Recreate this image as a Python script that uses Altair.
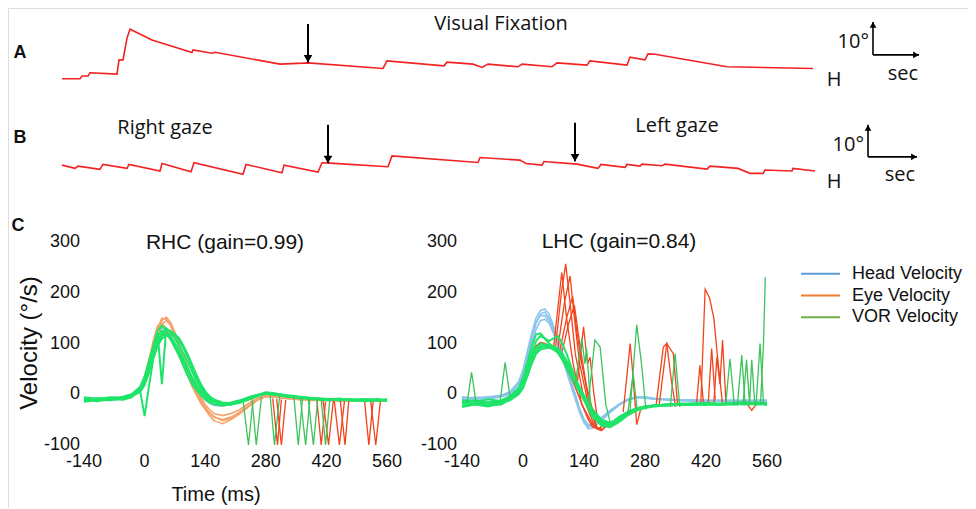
import altair as alt
import pandas as pd

# ---------------- Panel A : visual fixation (time s, horizontal position deg)
A_t = [0, 1.8, 2.0, 2.6, 2.8, 5.5, 5.7, 6.1, 6.5, 6.8, 9.0, 13.0, 13.1, 15.0, 15.3, 21.8, 24.1, 24.6,
       32.1, 32.5, 38.2, 38.5, 41.1, 42.0, 42.6, 45.6, 46.0, 49.0, 49.5, 52.5, 52.8, 56.5, 56.8, 58.3,
       58.6, 59.3, 66.5, 75.1]
A_deg = [0.4, 0.4, 1.2, 1.2, 2.2, 1.8, 6.1, 6.1, 12.7, 15.4, 12.1, 8.3, 9.1, 8.1, 8.4, 4.8, 5.1, 5.2,
         3.5, 5.8, 4.3, 5.4, 4.8, 3.8, 4.8, 4.0, 4.8, 4.0, 5.2, 4.5, 5.8, 4.5, 6.9, 6.1,
         7.9, 7.8, 4.0, 3.5]
A_arrow_t = [24.6]
A_arrow_from = [17.0]
A_arrow_to = [5.4]

# ---------------- Panel B : right / left gaze
B_t = [0, 1.3, 1.6, 3.8, 4.1, 6.5, 6.7, 9.8, 10.0, 12.9, 13.2, 18.1, 18.4, 22.0, 22.2, 25.6, 26.0, 26.8,
       32.6, 33.0, 41.6, 41.8, 45.8, 46.4, 48.0, 48.2, 51.5, 53.6, 53.9, 56.3, 56.5, 57.8, 58.0, 60.0,
       60.3, 64.5, 64.8, 67.6, 68.8, 70.1, 70.3, 73.0, 73.1, 75.3]
B_deg = [3.0, 2.0, 2.7, 1.7, 3.2, 2.0, 3.2, 1.2, 3.5, 1.0, 3.7, 0.2, 3.2, 0.7, 3.0, 0.9, 3.7, 3.6,
         2.5, 5.8, 3.8, 5.3, 4.5, 3.5, 3.0, 4.1, 3.3, 2.0, 3.2, 2.3, 3.2, 2.7, 3.3, 2.8,
         3.3, 1.8, 2.7, 2.0, 0.5, 0.5, 1.5, 1.2, 2.0, 1.2]
B_arrow_t = [26.6, 51.3]
B_arrow_from = [15.2, 15.8]
B_arrow_to = [3.6, 4.2]

# scale bars (10 deg vertical, time horizontal)
SB_A = dict(t=81.1, t2=85.7, d0=7.6, d1=17.6)
SB_B = dict(t=80.6, t2=85.5, d0=5.5, d1=15.2)

# ---------------- Panel C : head impulse velocity traces
T = [-140, -110, -80, -50, -30, -10, 0, 10, 20, 30, 40, 50, 60, 70, 80, 90, 100, 110, 120, 130, 140,
     150, 160, 180, 200, 220, 240, 260, 280, 300, 330, 360, 390, 420, 450, 480, 510, 540, 560]

RHC_head = {
    "h1": [-8, -9, -8, -6, -1, 12, 30, 60, 92, 118, 130, 128, 118, 102, 84, 64, 44, 26, 10, -2, -12,
           -18, -22, -24, -20, -14, -8, -3, 0, -2, -5, -7, -9, -10, -10, -11, -11, -12, -11],
}
RHC_eye = {
    "e1": [-10, -12, -8, -8, -2, 12, 30, 60, 95, 130, 150, 148, 135, 115, 92, 68, 45, 22, 3, -15, -28,
           -38, -45, -50, -45, -35, -22, -10, -3, -5, -8, -10, -11, -12, -11, -13, -12, -12, -13],
    "e2": [-13, -9, -11, -7, -3, 10, 28, 55, 90, 125, 145, 152, 142, 122, 98, 74, 50, 27, 8, -10, -25,
           -36, -44, -52, -48, -38, -25, -12, -4, -6, -9, -10, -12, -11, -13, -12, -13, -11, -12],
    "e3": [-8, -11, -9, -10, -4, 14, 35, 68, 105, 135, 140, 130, 115, 95, 75, 55, 35, 15, -2, -18, -30,
           -42, -52, -58, -50, -38, -24, -12, -5, -4, -8, -11, -10, -12, -12, -11, -14, -13, -11],
    "e4": [-12, -10, -10, -9, -3, 8, 24, 50, 82, 115, 138, 145, 138, 120, 98, 75, 52, 30, 10, -6, -20,
           -30, -38, -42, -38, -30, -18, -8, -2, -4, -7, -9, -11, -11, -12, -12, -11, -13, -12],
}
RHC_vor = {
    "g1": [-8, -10, -6, -8, -2, 10, 28, 58, 88, 110, 118, 120, 112, 100, 85, 68, 50, 33, 18, 6, -3,
           -10, -14, -18, -16, -12, -6, -1, 2, 0, -4, -6, -8, -10, -9, -11, -10, -12, -11],
    "g2": [-12, -8, -10, -5, 0, 15, 35, 65, 95, 125, 135, 125, 110, 95, 80, 62, 45, 28, 14, 4, -6,
           -12, -16, -20, -19, -14, -8, -2, 3, 1, -2, -5, -8, -9, -12, -10, -13, -11, -14],
    "g3": [-15, -12, -12, -9, -4, 5, 18, 42, 70, 95, 110, 115, 118, 118, 110, 95, 78, 58, 38, 20, 6,
           -4, -10, -16, -18, -15, -10, -3, 4, 2, -3, -7, -9, -11, -10, -13, -12, -10, -12],
    "g4": [-6, -9, -7, -6, -1, 12, 30, 58, 90, 115, 125, 120, 108, 92, 75, 55, 36, 20, 8, -2, -10,
           -16, -20, -22, -20, -16, -9, -3, 1, -1, -5, -7, -10, -12, -11, -12, -11, -13, -10],
    "g5": [-10, -14, -9, -11, -6, 8, 22, 48, 75, 100, 120, 128, 125, 118, 105, 90, 72, 52, 32, 16, 4,
           -6, -12, -18, -20, -17, -11, -4, 2, 0, -4, -8, -9, -10, -12, -11, -14, -12, -11],
    "g6": [-9, -11, -8, -7, -3, 5, -43, 15, 70, 100, 115, 118, 110, 98, 84, 66, 48, 30, 16, 5, -4,
           -11, -15, -19, -17, -13, -7, -2, 2, 0, -4, -6, -8, -10, -9, -11, -10, -12, -11],
    "g7": [-11, -9, -10, -8, -3, 10, 28, 55, 88, 120, 20, 130, 122, 110, 95, 80, 62, 44, 26, 12, 1,
           -8, -13, -18, -18, -14, -8, -2, 3, 1, -3, -6, -9, -11, -10, -12, -11, -10, -12],
}
RHC_eye_spikes = {
    "r1": ([296, 307, 316], [-8, -100, -10]),
    "r2": ([305, 316, 326], [-9, -100, -11]),
    "r3": ([398, 408, 418], [-12, -100, -15]),
    "r4": ([412, 425, 436], [-10, -100, -12]),
    "r5": ([438, 450, 462], [-11, -100, -12]),
    "r6": ([452, 463, 472], [-12, -100, -10]),
    "r7": ([508, 518, 528], [-12, -100, -13]),
    "r8": ([522, 534, 545], [-11, -100, -12]),
}
RHC_vor_spikes = {
    "s1": ([228, 240, 250], [-16, -100, -15]),
    "s2": ([248, 258, 270], [-8, -100, -5]),
    "s3": ([290, 300, 312], [-2, -100, -4]),
    "s4": ([345, 355, 365], [-6, -100, -8]),
    "s5": ([360, 372, 382], [-8, -100, -8]),
    "s6": ([378, 390, 400], [-9, -100, -9]),
    "s7": ([408, 418, 428], [-10, -100, -10]),
}

LHC_head = {
    "h1": [-8, -6, -8, -4, 2, 20, 40, 75, 110, 140, 158, 162, 150, 128, 105, 80, 52, 25, 0, -28, -50,
           -63, -62, -48, -33, -20, -10, -5, -6, -8, -10, -12, -12, -13, -12, -13, -12, -13, -12],
    "h2": [-5, -8, -6, -2, 5, 25, 48, 85, 120, 150, 165, 168, 158, 135, 110, 84, 55, 26, -2, -32, -55,
           -68, -66, -52, -36, -22, -12, -6, -5, -8, -11, -12, -13, -12, -13, -12, -14, -12, -13],
    "h3": [-10, -9, -10, -5, 0, 15, 35, 65, 100, 128, 145, 148, 140, 120, 98, 74, 48, 22, -4, -30, -50,
           -60, -58, -46, -32, -20, -12, -7, -8, -10, -11, -12, -11, -13, -13, -12, -13, -12, -12],
    "h4": [-7, -7, -5, -3, 4, 22, 44, 80, 115, 142, 155, 155, 145, 125, 100, 72, 44, 16, -10, -36, -56,
           -64, -60, -47, -33, -21, -11, -5, -7, -9, -10, -11, -13, -12, -12, -14, -12, -13, -13],
}
LHC_eye = {
    "e1": [-15, -13, -17, -14, -6, 8, 24, 50, 76, 95, 102, 100, 96, 90, 84, 70, 52, 34, 14, -8, -30,
           -50, -65, -70, -58, -45, -35, -28, -24, -22, -21, -19, -20, -18, -19, -18, -17, -19, -18],
}
LHC_vor = {
    "g1": [-12, -15, -10, -14, -5, 8, 25, 50, 75, 92, 100, 98, 95, 92, 88, 75, 60, 42, 25, 8, -8,
           -22, -35, -55, -58, -45, -35, -28, -24, -22, -20, -18, -19, -17, -18, -17, -16, -18, -17],
    "g2": [-18, -14, -20, -16, -8, 5, 20, 45, 70, 88, 95, 94, 92, 88, 82, 70, 55, 38, 22, 6, -10,
           -25, -40, -58, -62, -50, -38, -30, -25, -23, -21, -20, -18, -19, -20, -18, -19, -17, -19],
    "g3": [-22, -18, -22, -20, -10, 2, 15, 38, 62, 82, 92, 95, 97, 95, 90, 80, 66, 50, 32, 14, -4,
           -18, -32, -52, -60, -52, -40, -32, -27, -24, -22, -21, -20, -21, -19, -20, -18, -20, -18],
    "g4": [-15, -20, -16, -18, -6, 10, 28, 55, 82, 105, 115, 110, 100, 92, 82, 68, 52, 36, 20, 4, -12,
           -26, -40, -62, -65, -55, -42, -32, -26, -22, -20, -19, -18, -18, -19, -19, -17, -18, -20],
    "g5": [-25, -20, -24, -18, -12, 0, 12, 35, 60, 80, 88, 90, 92, 90, 85, 74, 60, 45, 28, 12, -2,
           -16, -30, -50, -56, -48, -36, -28, -24, -22, -22, -20, -21, -19, -21, -19, -20, -19, -21],
    "g6": [-14, -12, -16, -12, -4, 12, 32, 62, 95, 118, 120, 110, 105, 110, 115, 100, 80, 55, 32, 10, -10,
           -28, -45, -60, -62, -50, -38, -30, -25, -22, -20, -20, -19, -18, -20, -18, -18, -19, -17],
}
LHC_eye_spikes = {
    "r1": ([70, 80, 89, 100, 115, 135, 160, 175, 190], [90, 170, 240, 150, 60, -20, -60, -70, -55]),
    "r2": ([75, 88, 98, 108, 120, 140, 165, 180, 200], [95, 200, 257, 180, 80, -10, -65, -72, -55]),
    "r3": ([80, 95, 108, 118, 130, 150, 170, 190], [92, 180, 233, 150, 60, -20, -68, -60]),
    "r4": ([85, 100, 114, 124, 135, 155, 172], [88, 150, 193, 120, 60, -30, -70]),
    "r5": ([90, 105, 118, 130, 145, 165], [85, 140, 175, 100, 20, -50]),
    "r6": ([125, 139, 148, 154, 162, 172], [25, 133, 60, 73, 5, -55]),
    "r7": ([230, 246, 252, 261, 270], [-35, 100, 40, -60, -30]),
    "r8": ([305, 322, 330, 340, 350], [-25, 93, 100, 30, -25]),
    "r9": ([312, 330, 345, 355], [-25, 100, 80, -22]),
    "r10": ([398, 406, 414], [-22, 57, -15]),
    "r11": ([408, 418, 428, 438, 448, 458], [-20, 207, 190, 150, 60, -20]),
    "r12": ([425, 433, 441], [-20, 90, -10]),
    "r13": ([438, 445, 452, 458, 466], [-18, 73, 20, 107, -20]),
    "r14": ([515, 525, 535], [-20, -32, -20]),
}
LHC_vor_spikes = {
    "s1": ([-128, -118, -108], [-15, 43, -15]),
    "s2": ([-52, -41, -30], [-10, 63, -5]),
    "s3": ([120, 135, 142, 146, 155, 165], [20, 110, 60, 90, -20, -40]),
    "s4": ([150, 165, 177, 190, 200], [-15, 107, 93, -20, -55]),
    "s5": ([240, 253, 262], [-40, 40, -30]),
    "s6": ([245, 261, 272, 282], [-40, 137, 60, -30]),
    "s7": ([338, 349, 360], [-25, 80, -25]),
    "s8": ([465, 475, 485], [-22, 70, -22]),
    "s9": ([492, 502, 510], [-22, 77, -20]),
    "s10": ([505, 513, 520, 525, 532], [-20, 68, -20, 68, -20]),
    "s11": ([535, 544, 552], [-20, 100, -20]),
    "s12": ([545, 552, 556], [-20, 100, 230]),
}

X_TICKS = [-140, 0, 140, 280, 420, 560]
Y_TICKS = [300, 200, 100, 0, -100]
LEGEND_LABELS = ["Head Velocity", "Eye Velocity", "VOR Velocity"]
LEGEND_COLORS = ["#5B9BD5", "#ED7D31", "#70AD47"]

TXT = dict(A="A", B="B", C="C", fix="Visual Fixation", right="Right gaze", left="Left gaze",
           deg="10°", sec="sec", H="H", rhc="RHC (gain=0.99)", lhc="LHC (gain=0.84)",
           ylab="Velocity (°/s)", xlab="Time (ms)")

# ---------------- scales (pixel ranges place each panel)
def sc(domain, rng):
    return alt.Scale(domain=domain, range=rng, nice=False, zero=False)

xAB = sc([0, 100], [54, 1054])
yA = sc([0, 10], [72, 39])
yB = sc([0, 10], [167, 134])
xCL = sc([-140, 560], [76, 379])
xCR = sc([-140, 560], [454, 759])
yC = sc([-100, 300], [437, 234])

TRACE_RED = "#F32222"
FONT_UP = "Open Sans"
FONT_C = "Liberation Sans"


def grid_df(traces):
    rows = []
    for k, vals in traces.items():
        for t, v in zip(T, vals):
            rows.append({"id": k, "t": t, "v": v})
    return pd.DataFrame(rows)


def pair_df(traces):
    rows = []
    for k, (ts, vs) in traces.items():
        for t, v in zip(ts, vs):
            rows.append({"id": k, "t": t, "v": v})
    return pd.DataFrame(rows)


def lines(df, xs, ys, color, w=1.4, op=1.0):
    return alt.Chart(df).mark_line(color=color, strokeWidth=w, opacity=op).encode(
        x=alt.X("t:Q", scale=xs, axis=None),
        y=alt.Y("v:Q", scale=ys, axis=None),
        detail="id:N",
    )


def label(txt, x, y, size=20, font=FONT_UP, weight="normal", align="center", angle=0):
    return alt.Chart(pd.DataFrame({"s": [txt]})).mark_text(
        fontSize=size, font=font, fontWeight=weight, align=align, baseline="middle",
        angle=angle, color="#111111"
    ).encode(x=alt.value(x), y=alt.value(y), text="s:N")


def arrows(ts, y0, y1, ys):
    df = pd.DataFrame({"t": ts, "a": y0, "b": y1})
    rule = alt.Chart(df).mark_rule(color="black", strokeWidth=2).encode(
        x=alt.X("t:Q", scale=xAB, axis=None),
        y=alt.Y("a:Q", scale=ys, axis=None), y2="b:Q")
    head = alt.Chart(df).mark_point(shape="triangle-down", filled=True, color="black",
                                    size=75, opacity=1, yOffset=-3.5).encode(
        x=alt.X("t:Q", scale=xAB, axis=None),
        y=alt.Y("b:Q", scale=ys, axis=None))
    return [rule, head]


def scalebar(sb, ys):
    df = pd.DataFrame({"t": [sb["t"]], "t2": [sb["t2"]], "d0": [sb["d0"]], "d1": [sb["d1"]]})
    v = alt.Chart(df).mark_rule(color="black", strokeWidth=1.6).encode(
        x=alt.X("t:Q", scale=xAB, axis=None),
        y=alt.Y("d0:Q", scale=ys, axis=None), y2="d1:Q")
    h = alt.Chart(df).mark_rule(color="black", strokeWidth=1.6).encode(
        x=alt.X("t:Q", scale=xAB, axis=None), x2="t2:Q",
        y=alt.Y("d0:Q", scale=ys, axis=None))
    up = alt.Chart(df).mark_point(shape="triangle-up", filled=True, color="black",
                                  size=45, opacity=1, yOffset=3).encode(
        x=alt.X("t:Q", scale=xAB, axis=None),
        y=alt.Y("d1:Q", scale=ys, axis=None))
    rt = alt.Chart(df).mark_point(shape="triangle-right", filled=True, color="black",
                                  size=45, opacity=1, xOffset=-3).encode(
        x=alt.X("t2:Q", scale=xAB, axis=None),
        y=alt.Y("d0:Q", scale=ys, axis=None))
    return [v, h, up, rt]


layers = []

# Panel A
dfA = pd.DataFrame({"id": "A", "t": A_t, "v": A_deg})
dfB = pd.DataFrame({"id": "B", "t": B_t, "v": B_deg})
layers.append(lines(dfA, xAB, yA, TRACE_RED, w=1.6))
layers += arrows(A_arrow_t, A_arrow_from, A_arrow_to, yA)
layers += scalebar(SB_A, yA)
layers.append(label(TXT["A"], 12, 45, size=18, font=FONT_C, weight="bold"))
layers.append(label(TXT["fix"], 493, 16))
layers.append(label(TXT["deg"], 861, 34, align="right"))
layers.append(label(TXT["sec"], 895, 66))
layers.append(label(TXT["H"], 826, 72))

# Panel B
layers.append(lines(dfB, xAB, yB, TRACE_RED, w=1.6))
layers += arrows(B_arrow_t, B_arrow_from, B_arrow_to, yB)
layers += scalebar(SB_B, yB)
layers.append(label(TXT["B"], 12, 130, size=18, font=FONT_C, weight="bold"))
layers.append(label(TXT["right"], 157, 120))
layers.append(label(TXT["left"], 669, 118))
layers.append(label(TXT["deg"], 856, 137, align="right"))
layers.append(label(TXT["sec"], 892, 167))
layers.append(label(TXT["H"], 826, 174))

# Panel C left (RHC)
layers.append(lines(grid_df(RHC_head), xCL, yC, "#86BFE8", w=1.3))
layers.append(lines(grid_df(RHC_eye), xCL, yC, "#F5A36C", w=1.6))
layers.append(lines(pair_df(RHC_eye_spikes), xCL, yC, "#F2431B", w=1.3))
layers.append(lines(grid_df(RHC_vor), xCL, yC, "#1FE46A", w=2.0))
layers.append(lines(pair_df(RHC_vor_spikes), xCL, yC, "#3CC45A", w=1.3))

# Panel C right (LHC)
layers.append(lines(grid_df(LHC_head), xCR, yC, "#8CC5EC", w=1.6))
layers.append(lines(grid_df(LHC_eye), xCR, yC, "#F2431B", w=1.4))
layers.append(lines(pair_df(LHC_eye_spikes), xCR, yC, "#F2431B", w=1.3))
layers.append(lines(grid_df(LHC_vor), xCR, yC, "#1FE46A", w=2.0))
layers.append(lines(pair_df(LHC_vor_spikes), xCR, yC, "#3CC45A", w=1.3))

# tick labels
tick_x = pd.DataFrame({"t": X_TICKS, "s": [str(v) for v in X_TICKS]})
tick_y = pd.DataFrame({"v": Y_TICKS, "s": [str(v) for v in Y_TICKS]})
for xs, ylx in ((xCL, 72), (xCR, 449)):
    layers.append(alt.Chart(tick_x).mark_text(fontSize=18, font=FONT_C, color="#111111",
                                              baseline="middle", align="center").encode(
        x=alt.X("t:Q", scale=xs, axis=None), y=alt.value(454), text="s:N"))
    layers.append(alt.Chart(tick_y).mark_text(fontSize=18, font=FONT_C, color="#111111",
                                              baseline="middle", align="right").encode(
        x=alt.value(ylx), y=alt.Y("v:Q", scale=yC, axis=None), text="s:N"))

layers.append(label(TXT["C"], 10, 218, size=18, font=FONT_C, weight="bold"))
layers.append(label(TXT["rhc"], 217, 235, size=21, font=FONT_C))
layers.append(label(TXT["lhc"], 611, 234, size=21, font=FONT_C))
layers.append(label(TXT["ylab"], 22, 335, size=24, font=FONT_C, angle=270))
layers.append(label(TXT["xlab"], 208, 487, size=20, font=FONT_C))

# legend
leg = pd.DataFrame({"s": LEGEND_LABELS, "c": LEGEND_COLORS})
leg_y = alt.Y("s:N", scale=alt.Scale(type="point", domain=LEGEND_LABELS, range=[255, 320]), axis=None)
layers.append(alt.Chart(leg).mark_rule(strokeWidth=2).encode(
    x=alt.value(793), x2=alt.value(832), y=leg_y,
    color=alt.Color("c:N", scale=None, legend=None)))
layers.append(alt.Chart(leg).mark_text(fontSize=18, font=FONT_C, color="#111111", align="left",
                                       baseline="middle").encode(
    x=alt.value(844), y=leg_y, text="s:N"))

chart = alt.layer(*layers).resolve_scale(x="independent", y="independent").properties(
    width=960, height=500, autosize=alt.AutoSizeParams(type="none"), padding=0
).configure_view(stroke=None).configure_axis(domain=False).configure(background="white")

chart.save("out.html", embed_options={"renderer": "svg", "actions": False})
